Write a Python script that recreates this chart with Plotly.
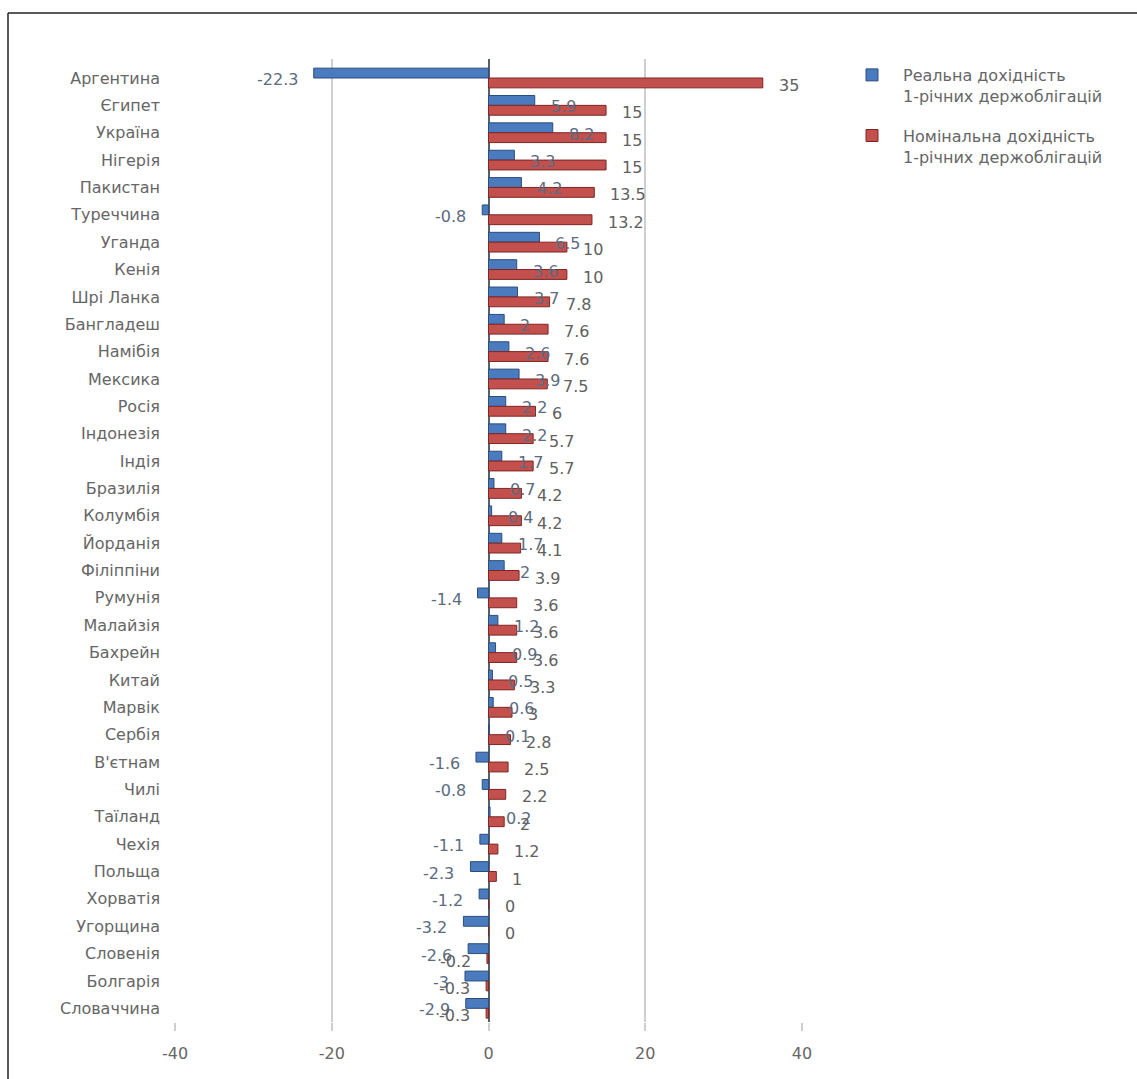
import plotly.graph_objects as go

# Countries, ordered as plotted from top to bottom
countries = [
    "Аргентина", "Єгипет", "Україна", "Нігерія", "Пакистан", "Туреччина",
    "Уганда", "Кенія", "Шрі Ланка", "Бангладеш", "Намібія", "Мексика",
    "Росія", "Індонезія", "Індія", "Бразилія", "Колумбія", "Йорданія",
    "Філіппіни", "Румунія", "Малайзія", "Бахрейн", "Китай", "Марвік",
    "Сербія", "В'єтнам", "Чилі", "Таїланд", "Чехія", "Польща",
    "Хорватія", "Угорщина", "Словенія", "Болгарія", "Словаччина",
]

# Real yield of 1-year government bonds, %
real_yield = [
    -22.3, 5.9, 8.2, 3.3, 4.2, -0.8,
    6.5, 3.6, 3.7, 2, 2.6, 3.9,
    2.2, 2.2, 1.7, 0.7, 0.4, 1.7,
    2, -1.4, 1.2, 0.9, 0.5, 0.6,
    0.1, -1.6, -0.8, 0.2, -1.1, -2.3,
    -1.2, -3.2, -2.6, -3, -2.9,
]

# Nominal yield of 1-year government bonds, %
nominal_yield = [
    35, 15, 15, 15, 13.5, 13.2,
    10, 10, 7.8, 7.6, 7.6, 7.5,
    6, 5.7, 5.7, 4.2, 4.2, 4.1,
    3.9, 3.6, 3.6, 3.6, 3.3, 3,
    2.8, 2.5, 2.2, 2, 1.2, 1,
    0, 0, -0.2, -0.3, -0.3,
]

x_ticks = [-40, -20, 0, 20, 40]

series_names = [
    "Реальна дохідність<br>1-річних держоблігацій",
    "Номінальна дохідність<br>1-річних держоблігацій",
]

BLUE = "#4a7bbf"
BLUE_EDGE = "#2c4d7c"
RED = "#c4504d"
RED_EDGE = "#7d2624"
LABEL_REAL = "#5b6b80"
LABEL_NOM = "#606060"
TEXT = "#666666"
FONT = "DejaVu Sans"
FS = 16

fig = go.Figure()
fig.add_trace(go.Bar(
    y=countries, x=real_yield, orientation="h", name=series_names[0],
    marker=dict(color=BLUE, line=dict(color=BLUE_EDGE, width=1)),
    legendgroup="real", hoverinfo="x+y",
))
fig.add_trace(go.Bar(
    y=countries, x=nominal_yield, orientation="h", name=series_names[1],
    marker=dict(color=RED, line=dict(color=RED_EDGE, width=1)),
    legendgroup="nominal", hoverinfo="x+y",
))


def fmt(v):
    return f"{v:g}"


# Value labels placed just past the end of each bar
annotations = []
for name, vr, vn in zip(countries, real_yield, nominal_yield):
    for v, color, ys in ((vr, LABEL_REAL, -1.5), (vn, LABEL_NOM, -7.5)):
        pos = v >= 0
        annotations.append(dict(
            x=v, y=name, xref="x", yref="y", text=fmt(v), showarrow=False,
            xanchor="left" if pos else "right", xshift=14 if pos else -14,
            yshift=ys, font=dict(family=FONT, size=FS, color=color),
        ))

# Frame lines along the top and left edges of the picture
ML, MR, MT, MB = 175, 335, 59, 57
W, H = 1137, 1079
pw, ph = W - ML - MR, H - MT - MB
left_x = (8 - ML) / pw
top_y = 1 - (13 - MT) / ph
frame = dict(color="#222222", width=1.5)
shapes = [
    dict(type="line", xref="paper", yref="paper",
         x0=left_x, x1=3, y0=top_y, y1=top_y, line=frame, layer="above"),
    dict(type="line", xref="paper", yref="paper",
         x0=left_x, x1=left_x, y0=-0.5, y1=top_y, line=frame, layer="above"),
]

fig.update_layout(
    width=W, height=H,
    margin=dict(l=ML, r=MR, t=MT, b=MB),
    paper_bgcolor="white", plot_bgcolor="white",
    barmode="group", bargap=0.28, bargroupgap=0,
    font=dict(family=FONT, size=FS, color=TEXT),
    showlegend=True,
    legend=dict(
        x=(841 - ML) / pw, y=1 - (58 - MT) / ph, xanchor="left", yanchor="top",
        font=dict(family=FONT, size=FS, color=TEXT),
        traceorder="grouped", tracegroupgap=16, valign="top",
        itemwidth=52, bgcolor="rgba(0,0,0,0)",
    ),
    annotations=annotations,
    shapes=shapes,
)

fig.update_xaxes(
    range=[-40, 40], tickvals=x_ticks, ticktext=[str(t) for t in x_ticks],
    showgrid=True, gridcolor="#cfcfcf", gridwidth=2,
    zeroline=True, zerolinecolor="#55606c", zerolinewidth=2,
    ticks="outside", ticklen=8, tickcolor="#cfcfcf", tickwidth=2,
    ticklabelstandoff=9, showline=False,
    tickfont=dict(family=FONT, size=FS, color=TEXT),
)
fig.update_yaxes(
    categoryorder="array", categoryarray=countries, autorange="reversed",
    showgrid=False, zeroline=False, showline=False, ticks="",
    ticklabelstandoff=14,
    tickfont=dict(family=FONT, size=FS, color=TEXT),
)

fig.write_html("out.html")
